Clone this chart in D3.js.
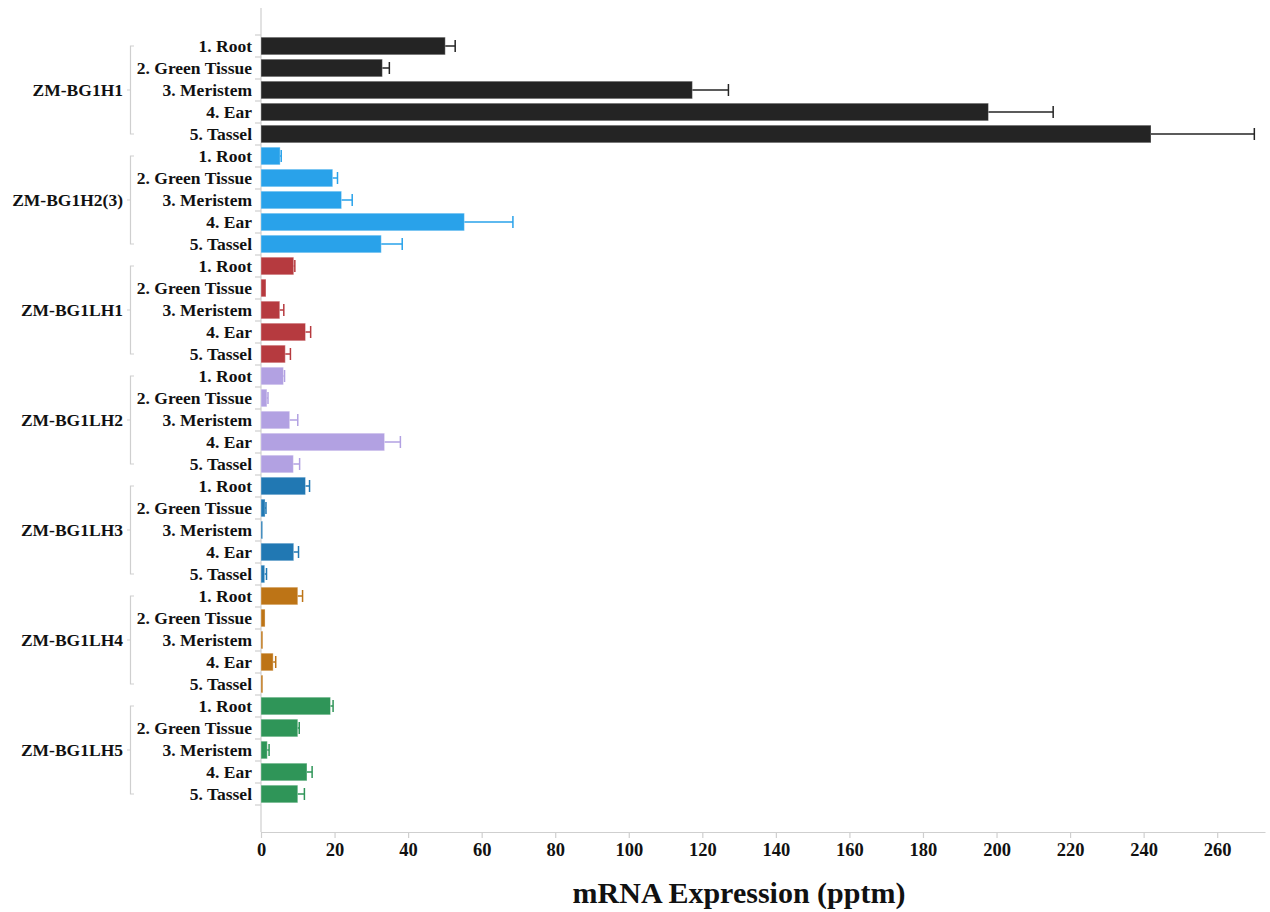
<!DOCTYPE html>
<html>
<head>
<meta charset="utf-8">
<script src="https://cdn.jsdelivr.net/npm/d3@7"></script>
<style>
  html, body { margin: 0; padding: 0; background: #fff; }
  svg { display: block; }
  text { font-family: "Liberation Serif", "Times New Roman", serif; font-weight: bold; fill: #111; }
</style>
</head>
<body>
<svg id="chart" width="1270" height="912"></svg>
<script>
// Genes and tissues
const genes = ["ZM-BG1H1", "ZM-BG1H2(3)", "ZM-BG1LH1", "ZM-BG1LH2", "ZM-BG1LH3", "ZM-BG1LH4", "ZM-BG1LH5"];
const tissues = ["1. Root", "2. Green Tissue", "3. Meristem", "4. Ear", "5. Tassel"];
const geneColors = ["#242424", "#29a2ea", "#b63a3f", "#b2a1e2", "#2178b3", "#bd7416", "#2f9558"];

// Mean expression (pptm) per tissue, one array per gene
const meanH1   = [50.1, 33.0, 117.3, 197.8, 242.0];
const meanH2   = [5.2, 19.5, 21.9, 55.3, 32.7];
const meanLH1  = [8.9, 1.35, 5.1, 12.1, 6.6];
const meanLH2  = [6.1, 1.6, 7.8, 33.6, 8.8];
const meanLH3  = [12.1, 1.1, 0.45, 8.9, 1.0];
const meanLH4  = [10.0, 1.1, 0.5, 3.3, 0.5];
const meanLH5  = [18.9, 10.0, 1.7, 12.5, 10.0];

// Error (upper) per tissue, one array per gene
const errH1    = [2.7, 1.9, 9.8, 17.6, 28.1];
const errH2    = [0.3, 1.3, 2.9, 13.2, 5.7];
const errLH1   = [0.3, 0, 1.1, 1.4, 1.4];
const errLH2   = [0.3, 0.3, 2.2, 4.3, 1.7];
const errLH3   = [1.1, 0.25, 0, 1.3, 0.5];
const errLH4   = [1.3, 0, 0, 0.7, 0];
const errLH5   = [0.7, 0.4, 0.5, 1.4, 1.8];

const xTicks = [0, 20, 40, 60, 80, 100, 120, 140, 160, 180, 200, 220, 240, 260];
const xTitle = "mRNA Expression (pptm)";

const means = [meanH1, meanH2, meanLH1, meanLH2, meanLH3, meanLH4, meanLH5];
const errs  = [errH1, errH2, errLH1, errLH2, errLH3, errLH4, errLH5];

const rows = [];
genes.forEach((g, gi) => {
  tissues.forEach((t, ti) => {
    rows.push({ key: g + "|" + t, gene: g, gi, tissue: t, value: means[gi][ti], err: errs[gi][ti] });
  });
});

const svg = d3.select("#chart");
const axisGray = "#cfcfcf";

const x = d3.scaleLinear().domain([0, 273]).range([261, 1265]);
const y = d3.scaleBand().domain(rows.map(d => d.key)).range([35, 805]).paddingInner(0.2).paddingOuter(0.1);
const step = y.step();
const gap = step * 0.2 / 2;

// Y axis line
svg.append("line")
  .attr("x1", x(0)).attr("x2", x(0))
  .attr("y1", 8).attr("y2", 832)
  .attr("stroke", axisGray).attr("stroke-width", 1.2);

// Y ticks on band boundaries
const bounds = rows.map(d => y(d.key) - gap).concat([y(rows[rows.length - 1].key) + y.bandwidth() + gap]);
svg.append("g").selectAll("line").data(bounds).join("line")
  .attr("x1", x(0) - 6).attr("x2", x(0))
  .attr("y1", d => d).attr("y2", d => d)
  .attr("stroke", axisGray).attr("stroke-width", 1.2);

// Bars
svg.append("g").selectAll("rect").data(rows).join("rect")
  .attr("x", x(0))
  .attr("y", d => y(d.key))
  .attr("width", d => x(d.value) - x(0))
  .attr("height", y.bandwidth())
  .attr("fill", d => geneColors[d.gi])
  .attr("stroke", "#ffffff").attr("stroke-opacity", 0.35).attr("stroke-width", 1);

// Error bars (upper side)
const eb = svg.append("g").selectAll("g").data(rows.filter(d => d.err > 0)).join("g");
eb.append("line")
  .attr("x1", d => x(d.value)).attr("x2", d => x(d.value + d.err))
  .attr("y1", d => y(d.key) + y.bandwidth() / 2).attr("y2", d => y(d.key) + y.bandwidth() / 2)
  .attr("stroke", d => geneColors[d.gi]).attr("stroke-width", 1.5);
eb.append("line")
  .attr("x1", d => x(d.value + d.err)).attr("x2", d => x(d.value + d.err))
  .attr("y1", d => y(d.key) + y.bandwidth() / 2 - 6).attr("y2", d => y(d.key) + y.bandwidth() / 2 + 6)
  .attr("stroke", d => geneColors[d.gi]).attr("stroke-width", 1.5);

// Tissue labels
svg.append("g").selectAll("text").data(rows).join("text")
  .attr("x", 252)
  .attr("y", d => y(d.key) + y.bandwidth() / 2)
  .attr("dy", "0.35em")
  .attr("text-anchor", "end")
  .style("font-size", "17.5px")
  .text(d => d.tissue);

// Gene group brackets and labels
const groups = genes.map((g, gi) => {
  const first = y(g + "|" + tissues[0]) + y.bandwidth() / 2;
  const last = y(g + "|" + tissues[tissues.length - 1]) + y.bandwidth() / 2;
  return { gene: g, first, last, mid: (first + last) / 2 };
});
const gg = svg.append("g").selectAll("g").data(groups).join("g");
gg.append("path")
  .attr("d", d => `M134,${d.first}H130.5V${d.last}H134M130.5,${d.mid}H127`)
  .attr("fill", "none").attr("stroke", axisGray).attr("stroke-width", 1.2);
gg.append("text")
  .attr("x", 123)
  .attr("y", d => d.mid)
  .attr("dy", "0.35em")
  .attr("text-anchor", "end")
  .style("font-size", "17.5px")
  .text(d => d.gene);

// X axis
const xAxis = svg.append("g")
  .attr("transform", "translate(0,832)")
  .call(d3.axisBottom(x).tickValues(xTicks).tickSize(6).tickPadding(5).tickSizeOuter(0));
xAxis.select(".domain").attr("stroke", axisGray).attr("stroke-width", 1.2);
xAxis.selectAll(".tick line").attr("stroke", axisGray).attr("stroke-width", 1.2);
xAxis.selectAll(".tick text")
  .style("font-family", "'Liberation Serif', 'Times New Roman', serif")
  .style("font-weight", "bold")
  .style("font-size", "18.5px")
  .attr("fill", "#111");

// X axis title
svg.append("text")
  .attr("x", 739)
  .attr("y", 903)
  .attr("text-anchor", "middle")
  .style("font-size", "30px")
  .text(xTitle);
</script>
</body>
</html>
